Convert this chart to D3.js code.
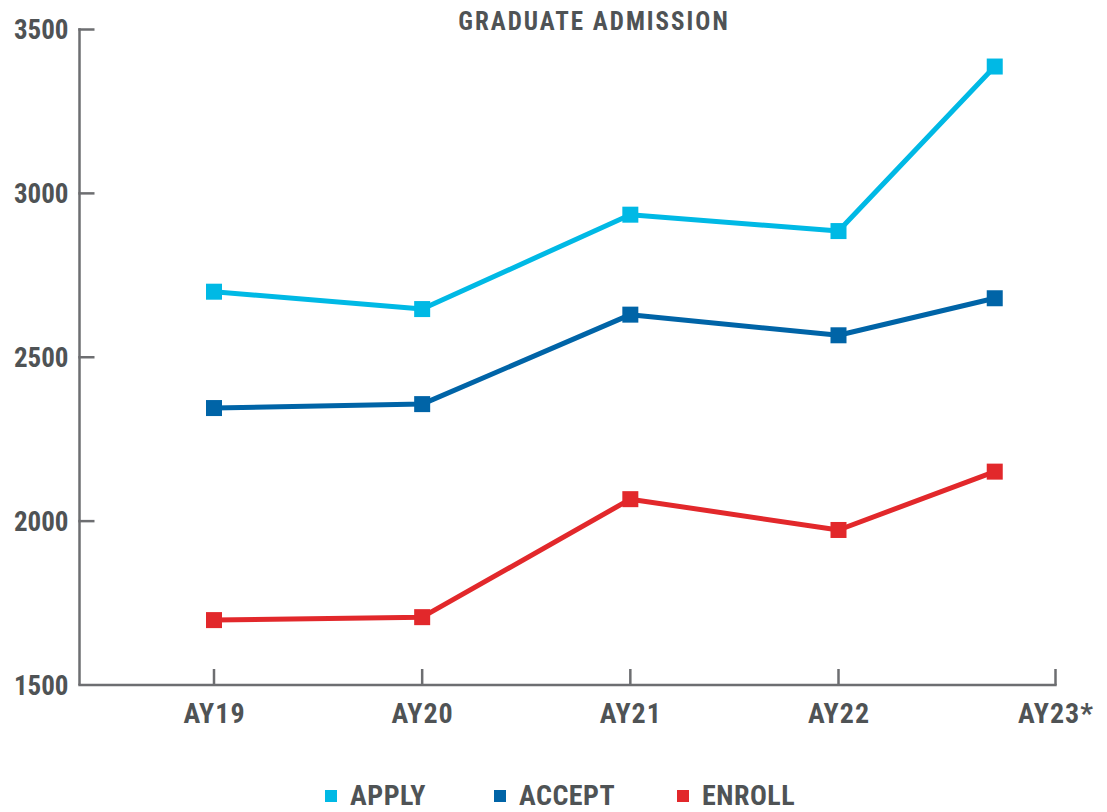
<!DOCTYPE html>
<html>
<head>
<meta charset="utf-8">
<script src="https://cdn.jsdelivr.net/npm/d3@7"></script>
<style>
  html, body { margin: 0; padding: 0; background: #fff; }
  svg { display: block; }
  text { font-family: "Liberation Sans Narrow", "Roboto Condensed", "Roboto", sans-serif; fill: #4f5355; font-weight: bold; }
</style>
</head>
<body>
<svg id="chart" width="1107" height="812"></svg>
<script>
const categories = ["AY19", "AY20", "AY21", "AY22", "AY23*"];
// AY23* is a partial year: its point sits before the end of the period
const periodPos = [0, 1, 2, 3, 3.72];
const applyValues  = [2700, 2647, 2935, 2885, 3387];
const acceptValues = [2345, 2357, 2630, 2567, 2680];
const enrollValues = [1698, 1707, 2067, 1973, 2151];
const yTicks = [1500, 2000, 2500, 3000, 3500];
const seriesNames = ["APPLY", "ACCEPT", "ENROLL"];
const seriesColors = ["#00b9e5", "#0064a7", "#e2282b"];
const title = "GRADUATE ADMISSION";

const series = [applyValues, acceptValues, enrollValues].map((vals, i) => ({
  name: seriesNames[i], color: seriesColors[i],
  points: vals.map((v, j) => ({ p: periodPos[j], v }))
}));

const svg = d3.select("#chart");
const axisColor = "#6d6e71";

const x = d3.scaleLinear().domain([0, 3, 4]).range([214, 838.5, 1055.5]);
const y = d3.scaleLinear().domain([1500, 3500]).range([685, 29.5]);
const axisLeftX = 79.5;

// Y axis
const yAxis = svg.append("g").attr("transform", `translate(${axisLeftX},0)`);
yAxis.append("line").attr("x1", 0).attr("x2", 0).attr("y1", y(3500) - 1.2).attr("y2", y(1500))
  .attr("stroke", axisColor).attr("stroke-width", 2.5);
yAxis.selectAll(".yt").data(yTicks.filter(d => d !== 1500)).join("line")
  .attr("x1", -1.2).attr("x2", 15).attr("y1", d => y(d)).attr("y2", d => y(d))
  .attr("stroke", axisColor).attr("stroke-width", 2.5);
yAxis.selectAll(".yl").data(yTicks).join("text")
  .attr("x", -11).attr("y", d => y(d)).attr("dy", "0.36em")
  .attr("text-anchor", "end").attr("font-size", 27)
  .text(d => d);

// X axis
const xAxis = svg.append("g").attr("transform", `translate(0,${y(1500)})`);
xAxis.append("line").attr("x1", axisLeftX - 1.2).attr("x2", x(4) + 1.2).attr("y1", 0).attr("y2", 0)
  .attr("stroke", axisColor).attr("stroke-width", 2.5);
xAxis.selectAll(".xt").data(categories).join("line")
  .attr("x1", (d, i) => x(i)).attr("x2", (d, i) => x(i)).attr("y1", 0).attr("y2", -16)
  .attr("stroke", axisColor).attr("stroke-width", 2.5);
xAxis.selectAll(".xl").data(categories).join("text")
  .attr("x", (d, i) => x(i) + 0.5).attr("y", 38)
  .attr("text-anchor", "middle").attr("font-size", 28).attr("letter-spacing", 1)
  .text(d => d);

// Title
svg.append("text").attr("x", 594).attr("y", 30).attr("text-anchor", "middle")
  .attr("font-size", 25).attr("letter-spacing", 2).text(title);

// Lines and markers
const line = d3.line().x(d => x(d.p)).y(d => y(d.v));
const ms = 16;
series.forEach(s => {
  const g = svg.append("g");
  g.append("path").datum(s.points).attr("d", line)
    .attr("fill", "none").attr("stroke", s.color).attr("stroke-width", 5)
    .attr("stroke-linejoin", "round");
  g.selectAll("rect").data(s.points).join("rect")
    .attr("x", d => x(d.p) - ms / 2).attr("y", d => y(d.v) - ms / 2)
    .attr("width", ms).attr("height", ms).attr("fill", s.color);
});

// Legend
const legendX = [325, 494, 677];
const legend = svg.append("g");
series.forEach((s, i) => {
  legend.append("rect").attr("x", legendX[i]).attr("y", 790).attr("width", 12).attr("height", 12)
    .attr("fill", s.color);
  legend.append("text").attr("x", legendX[i] + 25).attr("y", 805)
    .attr("font-size", 28).attr("letter-spacing", 0.5).text(s.name);
});
</script>
</body>
</html>
